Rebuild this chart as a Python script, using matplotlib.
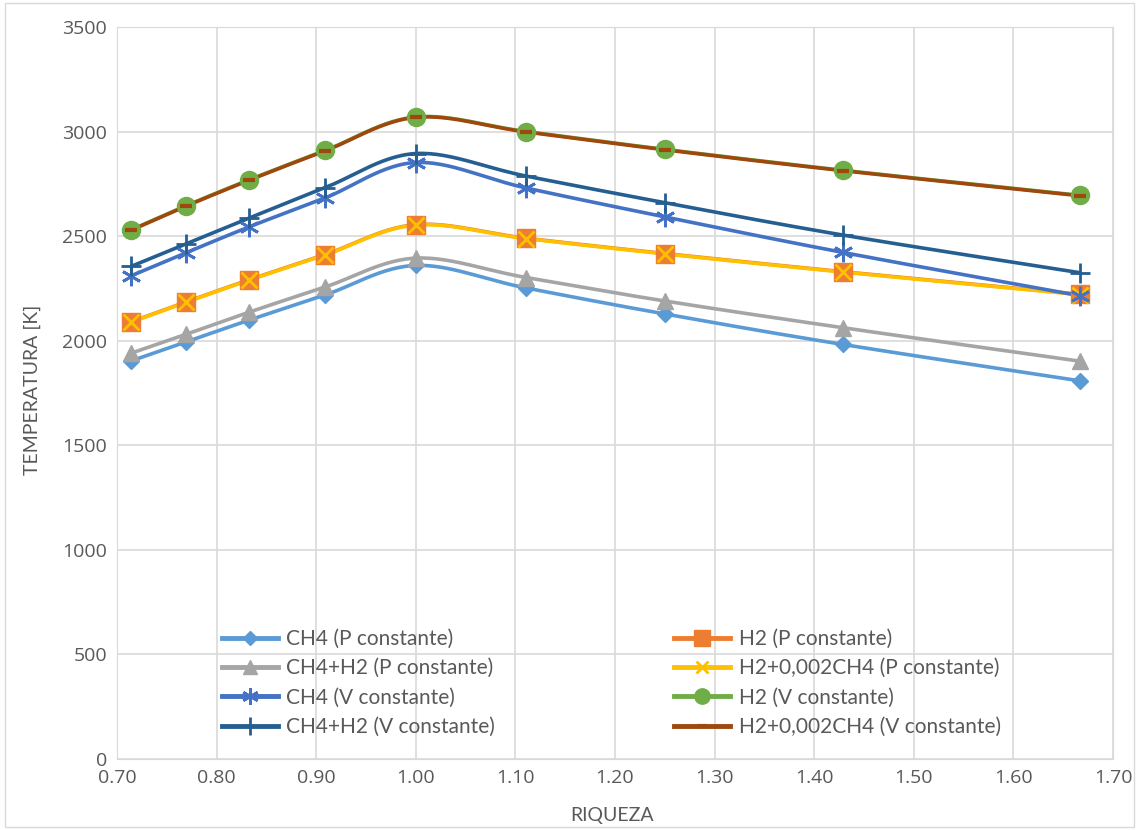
import matplotlib
matplotlib.use("Agg")
import matplotlib.pyplot as plt
from matplotlib.lines import Line2D
import numpy as np

# riqueza (equivalence ratio) values
riqueza = [0.714, 0.769, 0.833, 0.909, 1.000, 1.111, 1.250, 1.429, 1.667]

ch4_p = [1903, 1994, 2099, 2219, 2360, 2252, 2128, 1982, 1808]
h2_p = [2090, 2185, 2292, 2412, 2555, 2490, 2417, 2330, 2222]
ch4h2_p = [1940, 2030, 2137, 2257, 2395, 2302, 2190, 2062, 1902]
h2mix_p = [2088, 2183, 2290, 2410, 2553, 2488, 2415, 2328, 2220]
ch4_v = [2310, 2420, 2545, 2683, 2852, 2730, 2592, 2422, 2215]
h2_v = [2530, 2645, 2770, 2910, 3070, 3000, 2915, 2815, 2695]
ch4h2_v = [2355, 2462, 2587, 2732, 2895, 2787, 2660, 2505, 2325]
h2mix_v = [2528, 2643, 2768, 2908, 3068, 2998, 2913, 2813, 2693]

labels = ["CH4 (P constante)", "H2 (P constante)", "CH4+H2 (P constante)",
          "H2+0,002CH4 (P constante)", "CH4 (V constante)", "H2 (V constante)",
          "CH4+H2 (V constante)", "H2+0,002CH4 (V constante)"]
series = [ch4_p, h2_p, ch4h2_p, h2mix_p, ch4_v, h2_v, ch4h2_v, h2mix_v]
colors = ["#5B9BD5", "#ED7D31", "#A5A5A5", "#FFC000",
          "#4472C4", "#70AD47", "#255E91", "#9E480E"]
markers = ["D", "s", "^", "x", (6, 2, 0), "o", "+", "_"]
msizes = [8, 13, 12, 11, 14, 13, 15, 9]


def smooth(x, y, n=30):
    # excel-like smoothed line: bezier segments with catmull-rom control points
    x = np.asarray(x, float)
    y = np.asarray(y, float)
    px = np.concatenate([[x[0]], x, [x[-1]]])
    py = np.concatenate([[y[0]], y, [y[-1]]])
    xs, ys = [], []
    t = np.linspace(0, 1, n)
    for i in range(1, len(px) - 2):
        p0 = np.array([px[i], py[i]])
        p3 = np.array([px[i + 1], py[i + 1]])
        c1 = p0 + (np.array([px[i + 1], py[i + 1]]) - np.array([px[i - 1], py[i - 1]])) / 6
        c2 = p3 - (np.array([px[i + 2], py[i + 2]]) - np.array([px[i], py[i]])) / 6
        b = ((1 - t) ** 3)[:, None] * p0 + (3 * (1 - t) ** 2 * t)[:, None] * c1 \
            + (3 * (1 - t) * t ** 2)[:, None] * c2 + (t ** 3)[:, None] * p3
        xs.extend(b[:, 0])
        ys.extend(b[:, 1])
    return xs, ys


plt.rcParams['font.family'] = ['Open Sans', 'DejaVu Sans']
fig = plt.figure(figsize=(11.39, 8.30), dpi=100)
ax = fig.add_axes([117 / 1139, 1 - 759 / 830, (1113 - 117) / 1139, (759 - 27) / 830])

handles = []
for y, lab, col, mk, ms in zip(series, labels, colors, markers, msizes):
    sx, sy = smooth(riqueza, y)
    ax.plot(sx, sy, color=col, lw=2.6, zorder=3, solid_capstyle='round')
    mew = 2.0 if mk in ("x", "+", "_", (6, 2, 0)) else 1
    if mk == "_":
        mew = 3
    ax.plot(riqueza, y, linestyle='none', marker=mk, markersize=ms, color=col,
            markeredgecolor=col, markeredgewidth=mew, zorder=4)
    handles.append(Line2D([0], [0], color=col, lw=3.5, marker=mk,
                          markersize=ms * 0.85, markeredgewidth=mew, label=lab))

ax.set_xlim(0.70, 1.70)
ax.set_ylim(0, 3500)
ax.set_xticks(np.arange(0.70, 1.701, 0.10))
ax.set_xticklabels([f"{v:.2f}" for v in np.arange(0.70, 1.701, 0.10)])
ax.set_yticks(np.arange(0, 3501, 500))
ax.grid(True, color="#D9D9D9", lw=1.2)
ax.set_axisbelow(True)
for s in ax.spines.values():
    s.set_color("#D9D9D9")
ax.tick_params(length=0, labelsize=14, colors="#595959", pad=7)

fig.text(612 / 1139, 1 - 815 / 830, "RIQUEZA", ha='center', va='center',
         fontsize=14, color="#595959", family=['Lato', 'DejaVu Sans'])
fig.text(32 / 1139, 1 - 390 / 830, "TEMPERATURA [K]", ha='center', va='center',
         rotation=90, fontsize=14, color="#595959", family=['Lato', 'DejaVu Sans'])

order = [0, 2, 4, 6, 1, 3, 5, 7]
leg = ax.legend([handles[i] for i in order], [labels[i] for i in order],
                ncol=2, loc='lower left', bbox_to_anchor=(0.105, 0.03),
                frameon=False, borderpad=0, borderaxespad=0,
                handlelength=2.7, handletextpad=0.4,
                columnspacing=8.6, labelspacing=0.45,
                prop={'family': ['Lato', 'DejaVu Sans'], 'size': 15})
for t in leg.get_texts():
    t.set_color("#595959")

fig.patches.append(plt.Rectangle((0.004, 0.004), 0.992, 0.992, transform=fig.transFigure,
                                 fill=False, edgecolor="#D9D9D9", lw=1))

fig.savefig("out.png", dpi=100)
